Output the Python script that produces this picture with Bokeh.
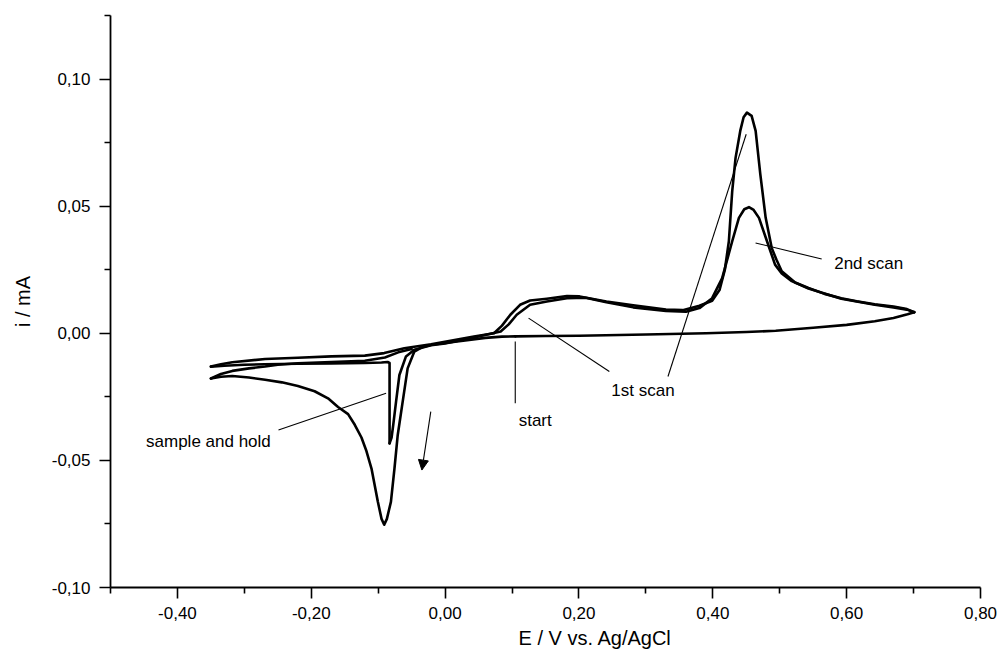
from bokeh.plotting import figure
from bokeh.models import (Range1d, FixedTicker, CustomJSTickFormatter, Arrow,
                          NormalHead, ColumnDataSource, Label, Title)
from bokeh.embed import file_html
from bokeh.resources import INLINE

# ---------------- data (E / V, i / mA) ----------------
# forward baseline from the start point to the vertex at 0.70 V
base_E = [0.105, 0.15, 0.20, 0.30, 0.39, 0.45, 0.494, 0.55, 0.60, 0.642, 0.67, 0.691, 0.701]
base_i = [-0.0012, -0.0011, -0.0010, -0.0005, 0.0, 0.0005, 0.0010, 0.0022, 0.0033, 0.0047, 0.0060, 0.0075, 0.0083]

# 1st scan: return with the tall peak, down to -0.35 V
scan1_E = [0.701, 0.69, 0.67, 0.642, 0.615, 0.592, 0.567, 0.543, 0.523, 0.503, 0.495, 0.488,
           0.479, 0.471, 0.464, 0.458, 0.451, 0.446, 0.441, 0.434, 0.429, 0.424, 0.418, 0.41,
           0.399, 0.38, 0.355, 0.33, 0.281, 0.241, 0.201, 0.182, 0.152, 0.127, 0.112, 0.0975,
           0.085, 0.073, 0.043, -0.021, -0.061, -0.091, -0.12, -0.17, -0.22, -0.269, -0.318,
           -0.335, -0.35]
scan1_i = [0.0083, 0.0095, 0.0105, 0.0114, 0.0126, 0.0138, 0.0155, 0.0178, 0.0200, 0.0244, 0.0290, 0.0336,
           0.0454, 0.0625, 0.0796, 0.0855, 0.0868, 0.0850, 0.0796, 0.0690, 0.0559, 0.0362, 0.0250, 0.0170,
           0.0128, 0.0108, 0.0091, 0.0093, 0.0110, 0.0125, 0.0145, 0.0146, 0.0136, 0.0129, 0.0112, 0.0073,
           0.0030, 0.0, -0.0013, -0.0043, -0.0059, -0.0078, -0.0088, -0.0091, -0.0096, -0.0101, -0.0114,
           -0.0122, -0.0131]

# sample and hold: from -0.35 V back to the hold potential, sharp spike
hold_E = [-0.35, -0.33, -0.30, -0.27, -0.22, -0.17, -0.12, -0.095, -0.086, -0.083, -0.083]
hold_i = [-0.0131, -0.0128, -0.0124, -0.0122, -0.0120, -0.0119, -0.0117, -0.0115, -0.0113, -0.0117, -0.0433]

# 2nd scan: from the spike up, through the smaller peak, to 0.70 V
scan2_E = [-0.083, -0.080, -0.0775, -0.0733, -0.0683, -0.0585, -0.046, -0.021, 0.0, 0.043, 0.083,
           0.095, 0.107, 0.127, 0.152, 0.182, 0.21, 0.241, 0.281, 0.33, 0.36, 0.38, 0.399, 0.414,
           0.429, 0.439, 0.447, 0.454, 0.461, 0.469, 0.481, 0.493, 0.503, 0.518, 0.543, 0.592,
           0.642, 0.67, 0.69, 0.701]
scan2_i = [-0.0433, -0.0410, -0.0360, -0.0269, -0.0164, -0.0091, -0.0065, -0.0047, -0.0040, -0.0017, 0.0007,
           0.0035, 0.0073, 0.0112, 0.0125, 0.0138, 0.0140, 0.0122, 0.0102, 0.0088, 0.0085, 0.0099, 0.0138, 0.0217,
           0.0362, 0.0454, 0.0488, 0.0496, 0.0485, 0.0454, 0.0362, 0.0270, 0.0235, 0.0205, 0.0176, 0.0136,
           0.0112, 0.0102, 0.0093, 0.0083]

# second negative-going branch back to -0.35 V
rev_E = [-0.05, -0.07, -0.09, -0.12, -0.17, -0.22, -0.25, -0.269, -0.293, -0.318, -0.335, -0.35]
rev_i = [-0.0062, -0.0075, -0.0095, -0.0108, -0.0113, -0.0118, -0.0124, -0.0131, -0.0138, -0.0148, -0.0160, -0.0178]

# positive-going branch with the large reduction peak, back to the start
peak_E = [-0.35, -0.335, -0.318, -0.293, -0.269, -0.244, -0.22, -0.195, -0.175, -0.16, -0.145,
          -0.135, -0.125, -0.118, -0.11, -0.1005, -0.095, -0.091, -0.087, -0.081, -0.0757,
          -0.0708, -0.0634, -0.056, -0.046, -0.035, -0.02, 0.0, 0.03, 0.06, 0.085, 0.105]
peak_i = [-0.0178, -0.0171, -0.0168, -0.0174, -0.0183, -0.0193, -0.0207, -0.0228, -0.0256, -0.0290, -0.0318,
          -0.0360, -0.0410, -0.0460, -0.0532, -0.0663, -0.0730, -0.0753, -0.0730, -0.0663, -0.0532,
          -0.0400, -0.0269, -0.0138, -0.0072, -0.0055, -0.0045, -0.0038, -0.0028, -0.0018, -0.0013, -0.0012]

# annotations: leader lines (x0, y0, x1, y1) and labels
lead_x0 = [0.1247, 0.333, 0.4639, 0.1048, -0.0882]
lead_y0 = [0.00595, -0.0170, 0.03553, -0.00323, -0.02362]
lead_x1 = [0.2454, 0.4499, 0.5627, 0.1048, -0.249]
lead_y1 = [-0.01506, 0.0783, 0.0292, -0.02756, -0.03805]
label_text = ["1st scan", "2nd scan", "start", "sample and hold"]
label_x = [0.2484, 0.5814, 0.1099, -0.4469]
label_y = [-0.0225, 0.0274, -0.0345, -0.0427]
arrow_start = (-0.0214, -0.0308)
arrow_end = (-0.0347, -0.0538)

x_title = "E / V vs. Ag/AgCl"
y_title = "i / mA"

x_major = [-0.4, -0.2, 0.0, 0.2, 0.4, 0.6, 0.8]
x_minor = [-0.5, -0.3, -0.1, 0.1, 0.3, 0.5, 0.7]
y_major = [-0.10, -0.05, 0.0, 0.05, 0.10]
y_minor = [-0.075, -0.025, 0.025, 0.075, 0.125]

FONT = "Liberation Sans"

p = figure(width=997, height=654, output_backend="svg", toolbar_location=None,
           x_range=Range1d(-0.50, 0.80), y_range=Range1d(-0.10, 0.125),
           y_axis_label=y_title)
p.min_border_left = 110
p.min_border_right = 17
p.min_border_top = 15
p.min_border_bottom = 67
p.outline_line_color = None
p.xgrid.visible = False
p.ygrid.visible = False
p.background_fill_color = "white"
p.border_fill_color = "white"

fmt = CustomJSTickFormatter(code="var t = Math.abs(tick) < 1e-9 ? 0 : tick; return t.toFixed(2).replace('.', ',');")
p.xaxis.ticker = FixedTicker(ticks=x_major, minor_ticks=x_minor)
p.yaxis.ticker = FixedTicker(ticks=y_major, minor_ticks=y_minor)
for ax in (p.xaxis[0], p.yaxis[0]):
    ax.formatter = fmt
    ax.axis_line_width = 1.8
    ax.axis_line_color = "black"
    ax.major_tick_line_width = 1.6
    ax.minor_tick_line_width = 1.6
    ax.major_tick_line_color = "black"
    ax.minor_tick_line_color = "black"
    ax.major_tick_in = 0
    ax.major_tick_out = 11
    ax.minor_tick_in = 0
    ax.minor_tick_out = 6
    ax.major_label_text_font = FONT
    ax.major_label_text_font_size = "17px"
    ax.major_label_text_color = "black"
    ax.axis_label_text_font = FONT
    ax.axis_label_text_font_size = "20px"
    ax.axis_label_text_font_style = "normal"
    ax.axis_label_text_color = "black"
p.xaxis.major_label_standoff = 8
p.yaxis.major_label_standoff = 9
p.yaxis.axis_label_standoff = 15

# x-axis title, placed as in the reference (left part of it under 0,00 .. 0,20)
p.add_layout(Title(text=x_title, align="left", offset=408, standoff=6,
                   text_font=FONT, text_font_size="20px", text_font_style="normal",
                   text_color="black"), "below")

LW = 2.6
for xs, ys in ((base_E, base_i), (scan1_E, scan1_i), (hold_E, hold_i),
               (scan2_E, scan2_i), (rev_E, rev_i), (peak_E, peak_i)):
    p.line(xs, ys, line_color="black", line_width=LW, line_join="round", line_cap="round")

lead_src = ColumnDataSource(dict(x0=lead_x0, y0=lead_y0, x1=lead_x1, y1=lead_y1))
p.segment(x0="x0", y0="y0", x1="x1", y1="y1", source=lead_src, line_color="black", line_width=1.1)

for t, x, y in zip(label_text, label_x, label_y):
    p.add_layout(Label(x=x, y=y, text=t, text_font=FONT, text_font_size="17px",
                       text_baseline="middle", text_align="left", text_color="black"))

p.add_layout(Arrow(x_start=arrow_start[0], y_start=arrow_start[1],
                   x_end=arrow_end[0], y_end=arrow_end[1], line_width=1.1, line_color="black",
                   end=NormalHead(size=10, fill_color="black", line_color="black", line_width=1)))

open("out.html", "w").write(file_html(p, INLINE))
